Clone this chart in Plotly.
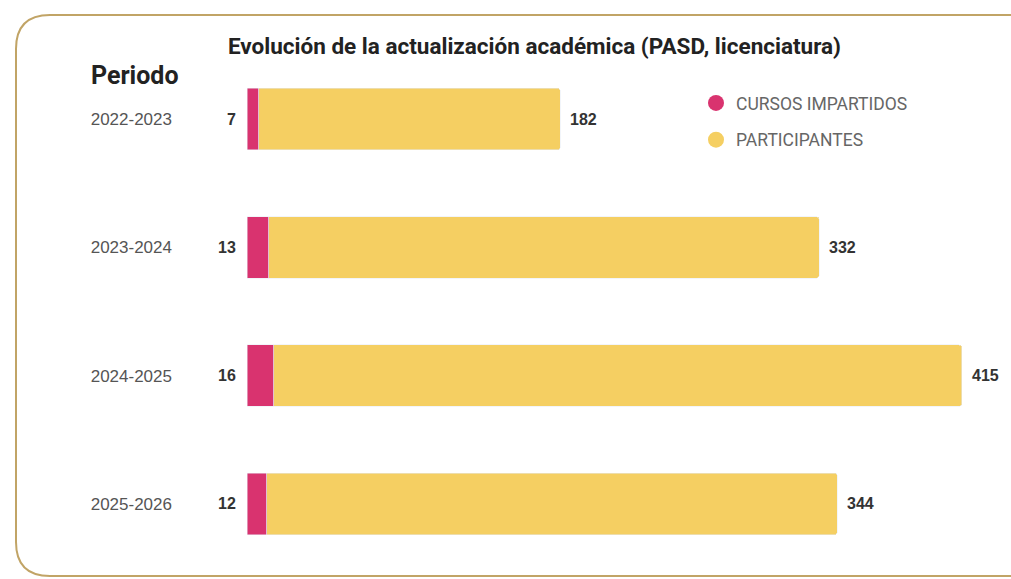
import plotly.graph_objects as go

periodos = ["2022-2023", "2023-2024", "2024-2025", "2025-2026"]
cursos = [7, 13, 16, 12]
participantes = [182, 332, 415, 344]

rosa = "#d9336f"
amarillo = "#f5cf62"

fig = go.Figure()

# Barras apiladas: cursos + participantes
fig.add_trace(go.Bar(
    y=periodos, x=cursos, orientation="h",
    marker=dict(color=rosa, cornerradius=3),
    showlegend=False, hoverinfo="x+y", name="Cursos impartidos"
))
fig.add_trace(go.Bar(
    y=periodos, x=participantes, orientation="h",
    marker=dict(color=amarillo, cornerradius=3),
    showlegend=False, hoverinfo="x+y", name="Participantes"
))

# Leyenda con círculos
fig.add_trace(go.Scatter(
    x=[None], y=[None], mode="markers", name="CURSOS IMPARTIDOS",
    marker=dict(color=rosa, size=16), legendgroup="a"
))
fig.add_trace(go.Scatter(
    x=[None], y=[None], mode="markers", name="PARTICIPANTES",
    marker=dict(color=amarillo, size=16), legendgroup="b"
))

# Etiquetas de valores
etiqueta = dict(size=16, color="#333333", family="Liberation Sans, Arial")
for p, c, n in zip(periodos, cursos, participantes):
    fig.add_annotation(x=0, y=p, text=f"<b>{c}</b>", showarrow=False,
                       xanchor="right", xshift=-9, font=etiqueta)
    fig.add_annotation(x=c + n, y=p, text=f"<b>{n}</b>", showarrow=False,
                       xanchor="left", xshift=8, font=etiqueta)

fig.add_annotation(x=(89 - 247) / 753, y=(568 - 75) / 513, xref="paper", yref="paper",
                   text="<b>Periodo</b>", showarrow=False,
                   xanchor="left", yanchor="middle",
                   font=dict(size=25, color="#222222", family="Roboto"))

# Marco redondeado
L, R = (16 - 247) / 753, (1030 - 247) / 753
T, B = (568 - 15) / 513, (568 - 576) / 513
rx, ry = 34 / 753, 34 / 513
path = (f"M {R},{T} L {L + rx},{T} Q {L},{T} {L},{T - ry} "
        f"L {L},{B + ry} Q {L},{B} {L + rx},{B} L {R},{B}")
fig.add_shape(type="path", path=path, xref="paper", yref="paper",
              line=dict(color="#c1a466", width=2))

fig.update_layout(
    width=1011, height=579,
    barmode="stack", bargap=0.52,
    paper_bgcolor="white", plot_bgcolor="white",
    margin=dict(l=247, r=11, t=55, b=11),
    font=dict(family="Roboto", color="#555555"),
    title=dict(text="<b>Evolución de la actualización académica (PASD, licenciatura)</b>",
               x=228 / 1011, xanchor="left", y=1 - 46 / 579, yanchor="middle",
               font=dict(size=22.5, color="#222222", family="Roboto")),
    xaxis=dict(range=[0, 454], visible=False),
    yaxis=dict(categoryorder="array", categoryarray=periodos[::-1],
               showgrid=False, zeroline=False, showline=False, ticks="",
               ticklabelstandoff=74,
               tickfont=dict(size=17, color="#555555", family="Liberation Sans, Arial")),
    legend=dict(x=(696 - 247) / 753, y=(568 - 85) / 513, xanchor="left", yanchor="top",
                font=dict(size=17.5, color="#666666", family="Roboto"), tracegroupgap=11,
                bgcolor="rgba(0,0,0,0)", itemclick=False),
)

fig.write_html("out.html", config={"displayModeBar": False},
               post_script="document.body.style.margin='0';")
